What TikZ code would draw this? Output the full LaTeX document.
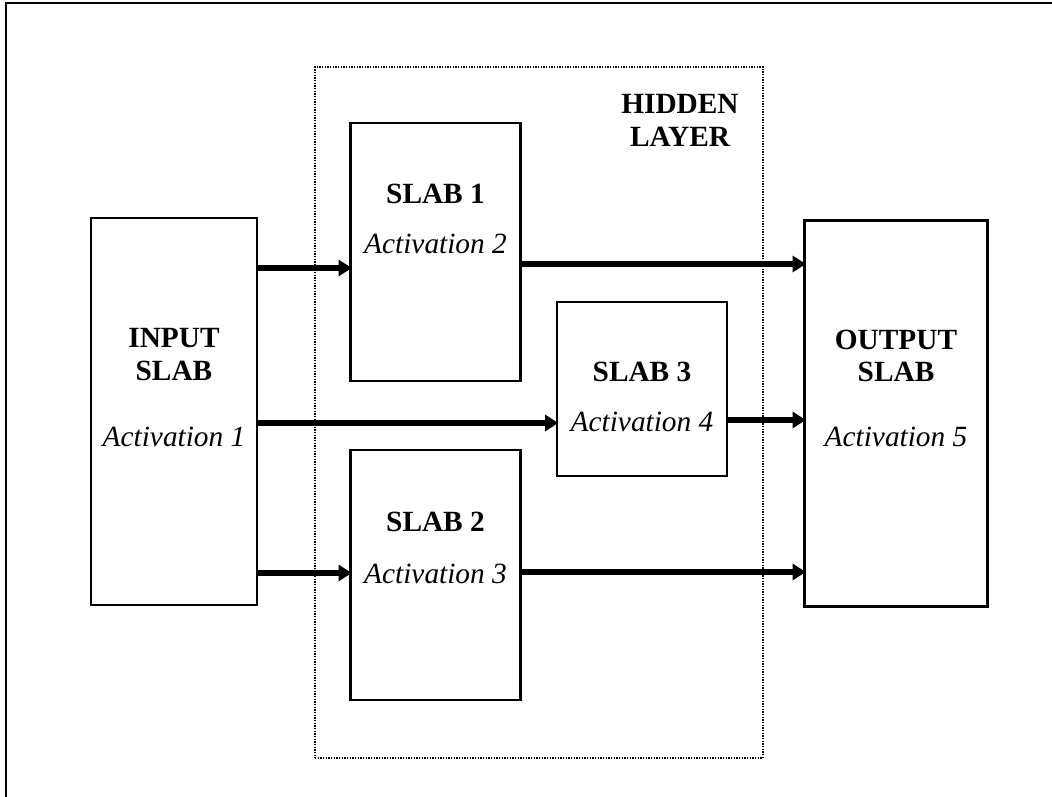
\documentclass[tikz,border=0pt]{standalone}
\usepackage{fontspec}
\setmainfont{Liberation Serif}
\usetikzlibrary{arrows.meta}
\tikzset{
  slabbox/.style={draw, line width=1.8pt, inner sep=0pt, outer sep=0pt},
  title/.style={font=\fontsize{22}{24.5}\selectfont\bfseries, align=center},
  act/.style={font=\fontsize{22}{24.5}\selectfont\itshape},
  flow/.style={line width=4pt, -{Triangle[length=10pt,width=12pt]}, shorten >=-1pt}
}
\begin{document}
\begin{tikzpicture}[x=0.75pt,y=-0.75pt]
\useasboundingbox (0,0) rectangle (1052,796);
\begin{scope}
\clip (0,0) rectangle (1052,796);
\draw[line width=1.6pt] (6,810) -- (6,3) -- (1070,3);
\end{scope}
% hidden layer
\node[draw, line width=0.9pt, dash pattern=on 1pt off 1pt, minimum width=336pt, minimum height=518.25pt, inner sep=0pt] (hidden) at (539,412.5) {};
\node[title] (hiddenlbl) at (680,120.5) {HIDDEN\\LAYER};
% slabs
\node[slabbox, minimum width=124.5pt, minimum height=290.25pt] (inp) at (174,411.5) {};
\node[slabbox, minimum width=127.5pt, minimum height=193.5pt] (s1) at (435.5,252) {};
\node[slabbox, minimum width=127.5pt, minimum height=187.5pt] (s2) at (435.5,575) {};
\node[slabbox, minimum width=127.5pt, minimum height=130.5pt] (s3) at (642,389) {};
\node[slabbox, minimum width=137.25pt, minimum height=289.5pt] (out) at (896,413.5) {};
% labels
\node[title] (inplbl) at (174,354.5) {INPUT\\SLAB};
\node[act] (inpact) at (174,437) {Activation 1};
\node[title] (s1lbl) at (435.5,194) {SLAB 1};
\node[act] (s1act) at (435.5,244) {Activation 2};
\node[title] (s2lbl) at (435.5,522) {SLAB 2};
\node[act] (s2act) at (435.5,574) {Activation 3};
\node[title] (s3lbl) at (642,372) {SLAB 3};
\node[act] (s3act) at (642,422) {Activation 4};
\node[title] (outlbl) at (896,356) {OUTPUT\\SLAB};
\node[act] (outact) at (896,437) {Activation 5};
% rows of the connections
\coordinate (ra) at (0,268);
\coordinate (rb) at (0,264);
\coordinate (rc) at (0,423);
\coordinate (rd) at (0,420);
\coordinate (re) at (0,573);
\coordinate (rf) at (0,572);
\draw[flow] (inp.east |- ra) -- (s1.west |- ra);
\draw[flow] (s1.east |- rb) -- (out.west |- rb);
\draw[flow] (inp.east |- rc) -- (s3.west |- rc);
\draw[flow] (s3.east |- rd) -- (out.west |- rd);
\draw[flow] (inp.east |- re) -- (s2.west |- re);
\draw[flow] (s2.east |- rf) -- (out.west |- rf);
\end{tikzpicture}
\end{document}
